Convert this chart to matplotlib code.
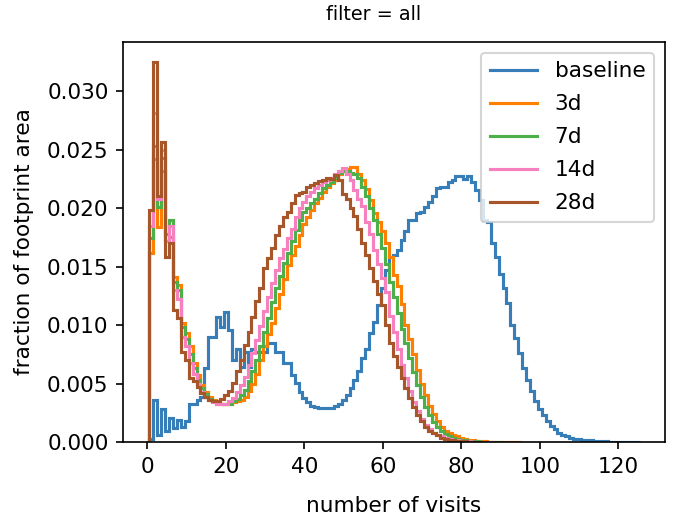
import numpy as np
import matplotlib
matplotlib.use("Agg")
import matplotlib.pyplot as plt

# fraction of footprint area per number of visits (visits = 1, 2, 3, ...)
baseline = [
    0.0003, 0.0036, 0.0006, 0.0028, 0.0010, 0.0021, 0.0012, 0.0019, 0.0013, 0.0018,
    0.0033, 0.0033, 0.0036, 0.0039, 0.0063, 0.0090, 0.0090, 0.0107, 0.0098, 0.0111,
    0.0096, 0.0070, 0.0080, 0.0064, 0.0077, 0.0064, 0.0080, 0.0077, 0.0077, 0.0077,
    0.0085, 0.0085, 0.0077, 0.0077, 0.0068, 0.0068, 0.0057, 0.0051, 0.0043, 0.0038,
    0.0034, 0.0031, 0.0030, 0.0029, 0.0029, 0.0029, 0.0029, 0.0031, 0.0033, 0.0036,
    0.0040, 0.0046, 0.0053, 0.0061, 0.0072, 0.0080, 0.0093, 0.0103, 0.0117, 0.0132,
    0.0147, 0.0158, 0.0160, 0.0164, 0.0173, 0.0180, 0.0190, 0.0190, 0.0196, 0.0197,
    0.0201, 0.0205, 0.0210, 0.0217, 0.0218, 0.0218, 0.0222, 0.0224, 0.0227, 0.0227,
    0.0225, 0.0227, 0.0222, 0.0215, 0.0207, 0.0190, 0.0188, 0.0170, 0.0158, 0.0144,
    0.0132, 0.0119, 0.0100, 0.0089, 0.0076, 0.0063, 0.0053, 0.0044, 0.0035, 0.0028,
    0.0023, 0.0018, 0.0014, 0.0011, 0.0008, 0.0006, 0.0005, 0.0004, 0.0003, 0.0003,
    0.0002, 0.0002, 0.00015, 0.00012, 0.0001, 0.0001, 0.00008, 0.00006, 0.00005, 0.00004,
    0.00003, 0.00002, 0.00002, 0.00001, 0.00001,
]
d3 = [
    0.0162, 0.0242, 0.0184, 0.0232, 0.0172, 0.0175, 0.0141, 0.0134, 0.0102, 0.0093,
    0.0082, 0.0068, 0.0057, 0.0049, 0.0043, 0.0039, 0.0036, 0.0034, 0.0033, 0.0033,
    0.0033, 0.0034, 0.0035, 0.0036, 0.0039, 0.0044, 0.0050, 0.0058, 0.0070, 0.0082,
    0.0092, 0.0102, 0.0115, 0.0127, 0.0139, 0.0151, 0.0160, 0.0168, 0.0177, 0.0186,
    0.0192, 0.0198, 0.0204, 0.0209, 0.0214, 0.0218, 0.0221, 0.0224, 0.0229, 0.0232,
    0.0233, 0.0235, 0.0235, 0.0229, 0.0224, 0.0216, 0.0207, 0.0196, 0.0188, 0.0180,
    0.0170, 0.0158, 0.0143, 0.0133, 0.0118, 0.0100, 0.0088, 0.0075, 0.0062, 0.0050,
    0.0040, 0.0031, 0.0024, 0.0018, 0.0013, 0.0010, 0.0008, 0.0006, 0.0005, 0.0004,
    0.0003, 0.0002, 0.00015, 0.0001, 0.0001, 0.00008, 0.00006, 0.00005, 0.00004, 0.00003,
    0.00002, 0.00002, 0.00002, 0.00001, 0.00001,
]
d7 = [
    0.0174, 0.0253, 0.0201, 0.0243, 0.0178, 0.0190, 0.0137, 0.0130, 0.0098, 0.0088,
    0.0075, 0.0063, 0.0053, 0.0046, 0.0041, 0.0037, 0.0035, 0.0033, 0.0033, 0.0033,
    0.0033, 0.0035, 0.0037, 0.0040, 0.0045, 0.0052, 0.0061, 0.0070, 0.0082, 0.0094,
    0.0106, 0.0120, 0.0132, 0.0142, 0.0153, 0.0162, 0.0172, 0.0181, 0.0190, 0.0197,
    0.0200, 0.0204, 0.0208, 0.0213, 0.0217, 0.0220, 0.0222, 0.0226, 0.0230, 0.0232,
    0.0232, 0.0230, 0.0229, 0.0226, 0.0218, 0.0210, 0.0200, 0.0190, 0.0178, 0.0166,
    0.0152, 0.0137, 0.0124, 0.0110, 0.0097, 0.0085, 0.0072, 0.0060, 0.0049, 0.0039,
    0.0030, 0.0023, 0.0017, 0.0013, 0.0010, 0.0007, 0.0005, 0.0004, 0.0003, 0.0002,
    0.0002, 0.0001, 0.0001, 0.00008, 0.00006, 0.00005, 0.00004, 0.00003, 0.00002, 0.00002,
]
d14 = [
    0.0185, 0.0281, 0.0208, 0.0250, 0.0172, 0.0185, 0.0130, 0.0122, 0.0090, 0.0082,
    0.0068, 0.0058, 0.0050, 0.0043, 0.0039, 0.0036, 0.0034, 0.0033, 0.0033, 0.0033,
    0.0035, 0.0038, 0.0043, 0.0049, 0.0056, 0.0066, 0.0076, 0.0087, 0.0099, 0.0112,
    0.0124, 0.0136, 0.0147, 0.0157, 0.0165, 0.0174, 0.0182, 0.0192, 0.0200, 0.0205,
    0.0210, 0.0214, 0.0217, 0.0220, 0.0222, 0.0224, 0.0226, 0.0229, 0.0232, 0.0234,
    0.0229, 0.0224, 0.0215, 0.0208, 0.0202, 0.0188, 0.0178, 0.0164, 0.0152, 0.0140,
    0.0128, 0.0108, 0.0094, 0.0080, 0.0066, 0.0055, 0.0044, 0.0034, 0.0027, 0.0020,
    0.0015, 0.0011, 0.0008, 0.0006, 0.0005, 0.0004, 0.0003, 0.0002, 0.0002, 0.0001,
    0.0001, 0.00008, 0.00006, 0.00005, 0.00004, 0.00003, 0.00002, 0.00002,
]
d28 = [
    0.0198, 0.0325, 0.0210, 0.0256, 0.0158, 0.0170, 0.0113, 0.0106, 0.0077, 0.0070,
    0.0055, 0.0052, 0.0047, 0.0042, 0.0039, 0.0036, 0.0035, 0.0035, 0.0037, 0.0040,
    0.0044, 0.0051, 0.0061, 0.0070, 0.0083, 0.0094, 0.0107, 0.0121, 0.0132, 0.0149,
    0.0157, 0.0166, 0.0177, 0.0185, 0.0192, 0.0197, 0.0204, 0.0211, 0.0213, 0.0214,
    0.0218, 0.0220, 0.0221, 0.0223, 0.0224, 0.0226, 0.0225, 0.0228, 0.0224, 0.0212,
    0.0208, 0.0200, 0.0193, 0.0182, 0.0170, 0.0160, 0.0149, 0.0138, 0.0127, 0.0117,
    0.0100, 0.0085, 0.0074, 0.0064, 0.0055, 0.0046, 0.0038, 0.0030, 0.0023, 0.0018,
    0.0013, 0.0010, 0.0008, 0.0006, 0.0004, 0.0003, 0.0002, 0.0002, 0.0001, 0.0001,
    0.00008, 0.00006, 0.00004, 0.00003, 0.00002,
]

labels = ["baseline", "3d", "7d", "14d", "28d"]
series = [baseline, d3, d7, d14, d28]
colors = ["#377eb8", "#ff7f00", "#4daf4a", "#f781bf", "#a65628"]

plt.rcParams["font.size"] = 10.4

fig = plt.figure(figsize=(673 / 150, 516 / 150), dpi=150)
ax = fig.add_axes([0.183, 0.143, 0.805, 0.776])

for vals, lab, col in zip(series, labels, colors):
    edges = np.arange(len(vals) + 1) + 0.5  # one bin per visit count
    ax.stairs(vals, edges, color=col, linewidth=1.5, label=lab)

ax.set_xlim(-6.2, 131.9)
ax.set_ylim(0, 0.0342)
ax.set_xticks([0, 20, 40, 60, 80, 100, 120])
ax.set_yticks(np.arange(0, 0.0301, 0.005))
ax.set_xlabel("number of visits", labelpad=9)
ax.set_ylabel("fraction of footprint area", labelpad=6)

# title sits a little left of the axes centre in the reference
fig.text(374 / 673, 1 - 14 / 516, "filter = all", fontsize=9.2, ha="center", va="center")

ax.legend(loc="upper right", handlelength=2.2, labelspacing=0.6)

fig.savefig("out.png", dpi=150)
